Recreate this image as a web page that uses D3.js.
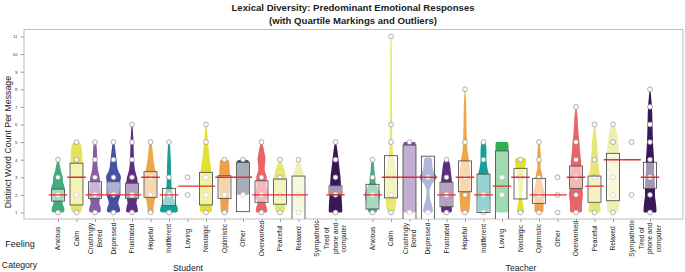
<!DOCTYPE html>
<html><head><meta charset="utf-8">
<script src="https://cdn.jsdelivr.net/npm/d3@7"></script>
<style>body{margin:0;background:#fff}svg{display:block}text{font-family:"Liberation Sans",Arial,sans-serif}</style>
</head><body>
<svg id="c" width="685" height="272"></svg>
<script>
// ---------- DATA ----------
const feelings = ["Anxious","Calm","Crushingly Bored","Depressed","Frustrated","Hopeful","Indifferent","Loving","Nostalgic","Optimistic","Other","Overworked","Peaceful","Relaxed","Sympathetic","Tired of phone and computer"];
const tickLabels = ["Anxious","Calm","Crushingly\nBored","Depressed","Frustrated","Hopeful","Indifferent","Loving","Nostalgic","Optimistic","Other","Overworked","Peaceful","Relaxed","Sympathetic","Tired of\nphone and\ncomputer"];
const groups = ["Student","Teacher"];
const yTicks = [1,2,3,4,5,6,7,8,9,10,11];

const studentMedian = [2,3,2,2,2,3,2,2.5,2.5,3,3,2,2,2,null,2];
const teacherMedian = [2,3,3,3,2,3,2,2.5,3,2,2,3,2.5,4,4,3];

const studentQ1 = [1.65,1.43,1.8,1.97,1.8,1.86,1.39,null,1.43,1.8,1.05,1.58,1.47,0.4,null,2.02];
const studentQ3 = [2.33,3.8,2.75,2.75,2.66,3.32,2.37,null,3.28,3.09,3.85,2.8,2.9,3.07,null,2.52];
const teacherQ1 = [1.2,1.83,0.4,0.4,1.33,2.18,1.0,0.4,1.77,1.52,null,2.37,1.58,1.67,null,2.37];
const teacherQ3 = [2.6,4.23,4.83,4.2,2.72,3.93,3.18,4.5,3.51,2.94,null,3.64,3.07,4.36,null,3.85];

const studentPoints = [[1,2,3,4],[1,2,4,5],[1,2,3,4,5],[1,2,3,4,5],[1,2,3,4,5,6],[1,2,3,5],[1,2,3,5],[2,3],[1,2,3,5,6],[1,2,4],[2,4],[1,2,3,5],[1,2,3,4],[1,2,4],[],[1,2,3,4,5]];
const teacherPoints = [[1,2,3,4],[1,2,3,5,6,11],[1,5],[1,3],[1,2,3,4],[1,2,3,5,8],[1,2,4,5],[2,3],[1,3,4],[1,2,3,4,5],[1,2,3],[1,2,3,4,5,7],[1,3,4,6],[1,2,3,4,5,6],[2,5],[1,2,3,4,5,6,7,8]];

// violin density profiles: [value, relative density]
const studentViolin = [
 [[1,4.5],[1.08,6.5],[1.25,6.2],[1.55,4.5],[1.9,6.5],[2.4,6.7],[2.75,5],[3,4.8],[3.3,3.2],[3.7,1.8],[4,0.6]],
 [[1,4],[1.1,5],[1.5,6],[2.5,6.3],[3.5,6.3],[4,6],[4.5,5.5],[4.85,4.5],[5,2.5]],
 [[1,4.5],[1.1,6],[1.3,5.5],[1.55,4.3],[2,6],[2.5,5.5],[3,4.7],[3.4,3],[4,2.2],[4.5,2],[5,1]],
 [[1,5],[1.08,6.7],[1.3,6],[1.55,4.7],[2,6.7],[2.5,5.5],[3,7.5],[3.4,4.5],[4,3],[4.5,2],[5,0.8]],
 [[1,4.5],[1.08,6],[1.3,5.5],[1.55,4.5],[2,6],[2.5,6],[3,5],[3.4,3],[4,2],[5,1.5],[6,0.5]],
 [[1,3],[1.2,3],[1.5,3.5],[2,5.5],[2.5,6],[3,6.2],[3.5,4.5],[4,3],[4.5,2.2],[5,0.8]],
 [[1,7],[1.08,9],[1.3,8.5],[1.6,6],[2,4],[2.5,2.5],[3,2.2],[4,1.8],[5,0.8]],
 [],
 [[1,4.5],[1.1,6],[2,6],[3,6],[3.5,5],[4,3.7],[5,2],[5.5,1.2],[6,0.4]],
 [[1,3.5],[1.1,3.8],[1.5,4],[2,5],[3,5.5],[3.6,5],[3.95,4.5],[4,3]],
 [[2,5],[2.1,6],[3.8,6],[3.95,5.5],[4,3]],
 [[1,4.8],[1.08,5.8],[1.3,5.2],[1.55,4],[2,6.7],[2.5,5],[3,5.3],[3.4,3.2],[3.8,3.5],[4,4],[4.4,3],[4.8,1.5],[5,0.6]],
 [[1,4],[1.1,5],[1.5,5.5],[2,6],[3,6],[3.3,5],[3.6,3.5],[4,0.8]],
 [[1,4.5],[1.1,5.5],[2,5.8],[3,5.5],[3.4,4],[3.8,2],[4,0.8]],
 [],
 [[1,6],[1.1,6.8],[1.5,6.5],[2,6],[2.5,5.5],[3,5],[3.5,4],[4,3],[4.5,2],[5,0.6]]
];
const teacherViolin = [
 [[1,3.5],[1.1,4.5],[1.5,6],[2,7.5],[2.4,5.5],[2.7,3],[3,2.8],[3.3,2],[3.7,1.5],[4,0.6]],
 [[1,3],[1.1,4],[1.5,5],[2,5.5],[3,5.5],[3.5,4.5],[4,3],[4.5,1.8],[5,1.3],[6,1.1],[8,0.9],[10,0.8],[11,0.4]],
 [[1,5.5],[1.1,6.5],[4.8,6.5],[5,5.5]],
 [[1,4],[1.1,5],[1.4,4],[1.8,2],[2.2,1.5],[2.6,4],[3,8.3],[3.3,6],[3.6,4.5],[4,4],[4.12,2.5]],
 [[1,4.5],[1.1,5.3],[1.5,5.5],[2,5.8],[2.5,5.8],[3,5],[3.5,4],[3.85,3],[4,1.5]],
 [[1,3.5],[1.1,4.5],[1.5,5],[2,5.5],[3,5.5],[3.5,5],[4,4],[4.5,2.5],[5,2],[6,1.5],[7,1.2],[8,0.4]],
 [[1,4.5],[1.1,5.3],[1.5,5.5],[2,6],[3,6],[3.5,4],[4,3],[4.5,3],[4.85,2.5],[5,1.5]],
 [[1,5],[1.1,6],[4.5,6.5],[4.9,6.5],[5,5.5]],
 [[1,3],[1.1,3.7],[1.3,3],[1.7,2],[2,1.5],[2.5,2],[3,3],[3.5,4.5],[3.8,5.5],[4.05,5.5],[4.1,4]],
 [[1,3.5],[1.1,4.5],[1.4,4.5],[1.7,5],[2,6],[2.4,4.5],[2.8,3],[3,3.5],[3.3,2.5],[3.6,1.5],[4,1.8],[4.5,1.5],[5,0.5]],
 [],
 [[1,5],[1.1,6],[1.5,6],[2,7],[2.5,6],[3,6],[3.5,5.5],[4,5],[4.5,4],[5,3.5],[5.5,2.5],[6,2],[6.5,1.5],[7,0.4]],
 [[1,5],[1.1,6],[1.5,5.5],[2,6],[2.5,5.5],[3,5.5],[3.5,4.5],[4,3.8],[4.5,3],[5,2.5],[5.5,1.5],[6,0.5]],
 [[1,5],[1.1,6],[2,6.5],[4,6.5],[4.5,6],[5,5],[5.5,4],[5.85,2.5],[6,0.8]],
 [],
 [[1,6],[1.1,6.5],[1.5,6],[2,5],[2.5,5],[3,4.5],[3.5,4],[4,4],[4.5,3.5],[5,3],[6,2.5],[7,2],[7.5,1.2],[8,0.4]]
];

const studentColors = ["#3fae7a","#e4e45a","#8a5ba6","#4550a0","#5d2e80","#f0a64a","#14a09a","#cccccc","#e2e22a","#f0a04a","#3d4d60","#e86468","#e6e676","#efefb4","#cccccc","#3b1758"];
const teacherColors = ["#3fae7a","#e6e670","#7e4ca0","#5060b4","#5d2e80","#f0a64a","#14a09a","#2eb050","#e2e22a","#f0a04a","#cccccc","#e86468","#e6e676","#efefb4","#cccccc","#3b1758"];

// ---------- CHART ----------
const svg = d3.select("#c");
const F = {left:24, right:683, top:29.5, bottom:219};
const keys = [...feelings.map(f=>"Student|"+f), "gap", ...feelings.map(f=>"Teacher|"+f)];
const x = d3.scalePoint().domain(keys).range([58,650]);
const y = d3.scaleLinear().domain([1,11]).range([212.5,36.5]);
const dens = d3.scaleLinear().domain([0,10]).range([0, x.step()*0.54]);
const boxHalf = x.step()*0.35, medHalf = x.step()*0.5;

svg.append("defs").append("clipPath").attr("id","clip")
  .append("rect").attr("x",F.left).attr("y",F.top).attr("width",F.right-F.left).attr("height",F.bottom-F.top);

svg.append("rect").attr("x",F.left).attr("y",F.top).attr("width",F.right-F.left).attr("height",F.bottom-F.top)
  .attr("fill","none").attr("stroke","#bdbdbd").attr("stroke-width",1);

const ya = svg.append("g").attr("transform",`translate(${F.left},0)`)
  .call(d3.axisLeft(y).tickValues(yTicks).tickSize(3.5).tickPadding(3).tickFormat(d3.format("d")));
ya.select(".domain").remove();
ya.selectAll("line").attr("stroke","#666").attr("stroke-width",0.6);
ya.selectAll("text").style("font-size","4.4px").attr("fill","#333");

const xa = svg.append("g").attr("transform",`translate(0,${F.bottom})`)
  .call(d3.axisBottom(x).tickValues(keys.filter(k=>k!=="gap")).tickSize(3).tickFormat(""));
xa.select(".domain").remove();
xa.selectAll("line").attr("stroke","#666").attr("stroke-width",0.6);

const plot = svg.append("g").attr("clip-path","url(#clip)");
const area = d3.area().y(d=>y(d[0])).curve(d3.curveMonotoneY);

const groupData = {
  Student:{med:studentMedian,q1:studentQ1,q3:studentQ3,pts:studentPoints,vio:studentViolin,col:studentColors},
  Teacher:{med:teacherMedian,q1:teacherQ1,q3:teacherQ3,pts:teacherPoints,vio:teacherViolin,col:teacherColors}
};

groups.forEach(g=>{
  const D = groupData[g];
  feelings.forEach((f,i)=>{
    const cx = x(g+"|"+f);
    const gg = plot.append("g");
    if (D.vio[i].length) {
      gg.append("path").datum(D.vio[i])
        .attr("d", area.x0(d=>cx-dens(d[1])).x1(d=>cx+dens(d[1])))
        .attr("fill", D.col[i]).attr("stroke","none");
    }
    gg.selectAll("circle").data(D.pts[i]).join("circle")
      .attr("cx",cx).attr("cy",d=>y(d)).attr("r",2.4)
      .attr("fill","#fff").attr("stroke","#9a9a9a").attr("stroke-width",0.8);
    if (D.q1[i]!=null) {
      gg.append("rect").attr("x",cx-boxHalf).attr("width",boxHalf*2)
        .attr("y",y(D.q3[i])).attr("height",y(D.q1[i])-y(D.q3[i]))
        .attr("fill","#fff").attr("fill-opacity",0.55)
        .attr("stroke","#555").attr("stroke-width",0.9);
    }
  });
});
groups.forEach(g=>{
  const D = groupData[g];
  feelings.forEach((f,i)=>{
    if (D.med[i]==null) return;
    const cx = x(g+"|"+f);
    plot.append("line").attr("x1",cx-medHalf).attr("x2",cx+medHalf)
      .attr("y1",y(D.med[i])).attr("y2",y(D.med[i]))
      .attr("stroke","#ec2a2a").attr("stroke-width",1.4);
  });
});

const labelCY = 238.5, lineH = 8.4;
groups.forEach(g=>{
  tickLabels.forEach((lab,i)=>{
    const cx = x(g+"|"+feelings[i]);
    const lines = lab.split("\n");
    const t = svg.append("text").attr("transform",`translate(${cx},${labelCY}) rotate(-90)`)
      .attr("text-anchor","middle").style("font-size","6.6px").attr("fill","#222");
    lines.forEach((ln,j)=>t.append("tspan").attr("x",0).attr("y",(j-(lines.length-1)/2)*lineH).attr("dy","0.35em").text(ln));
  });
});

svg.append("text").attr("x",20).attr("y",247).attr("text-anchor","middle").style("font-size","9px").attr("fill","#222").text("Feeling");
svg.append("text").attr("x",19.5).attr("y",268).attr("text-anchor","middle").style("font-size","8.7px").attr("fill","#222").text("Category");
svg.append("text").attr("x",188).attr("y",271).attr("text-anchor","middle").style("font-size","8.7px").attr("fill","#222").text(groups[0]);
svg.append("text").attr("x",521).attr("y",271).attr("text-anchor","middle").style("font-size","8.7px").attr("fill","#222").text(groups[1]);

svg.append("text").attr("transform","translate(11,142) rotate(-90)").attr("text-anchor","middle")
  .style("font-size","8.8px").attr("fill","#222").text("Distinct Word Count Per Message");

svg.append("text").attr("x",353).attr("y",10.5).attr("text-anchor","middle").style("font-size","9.6px").style("font-weight","bold").attr("fill","#222")
  .text("Lexical Diversity: Predominant Emotional Responses");
svg.append("text").attr("x",353).attr("y",23.5).attr("text-anchor","middle").style("font-size","9.6px").style("font-weight","bold").attr("fill","#222")
  .text("(with Quartile Markings and Outliers)");
</script>
</body></html>
